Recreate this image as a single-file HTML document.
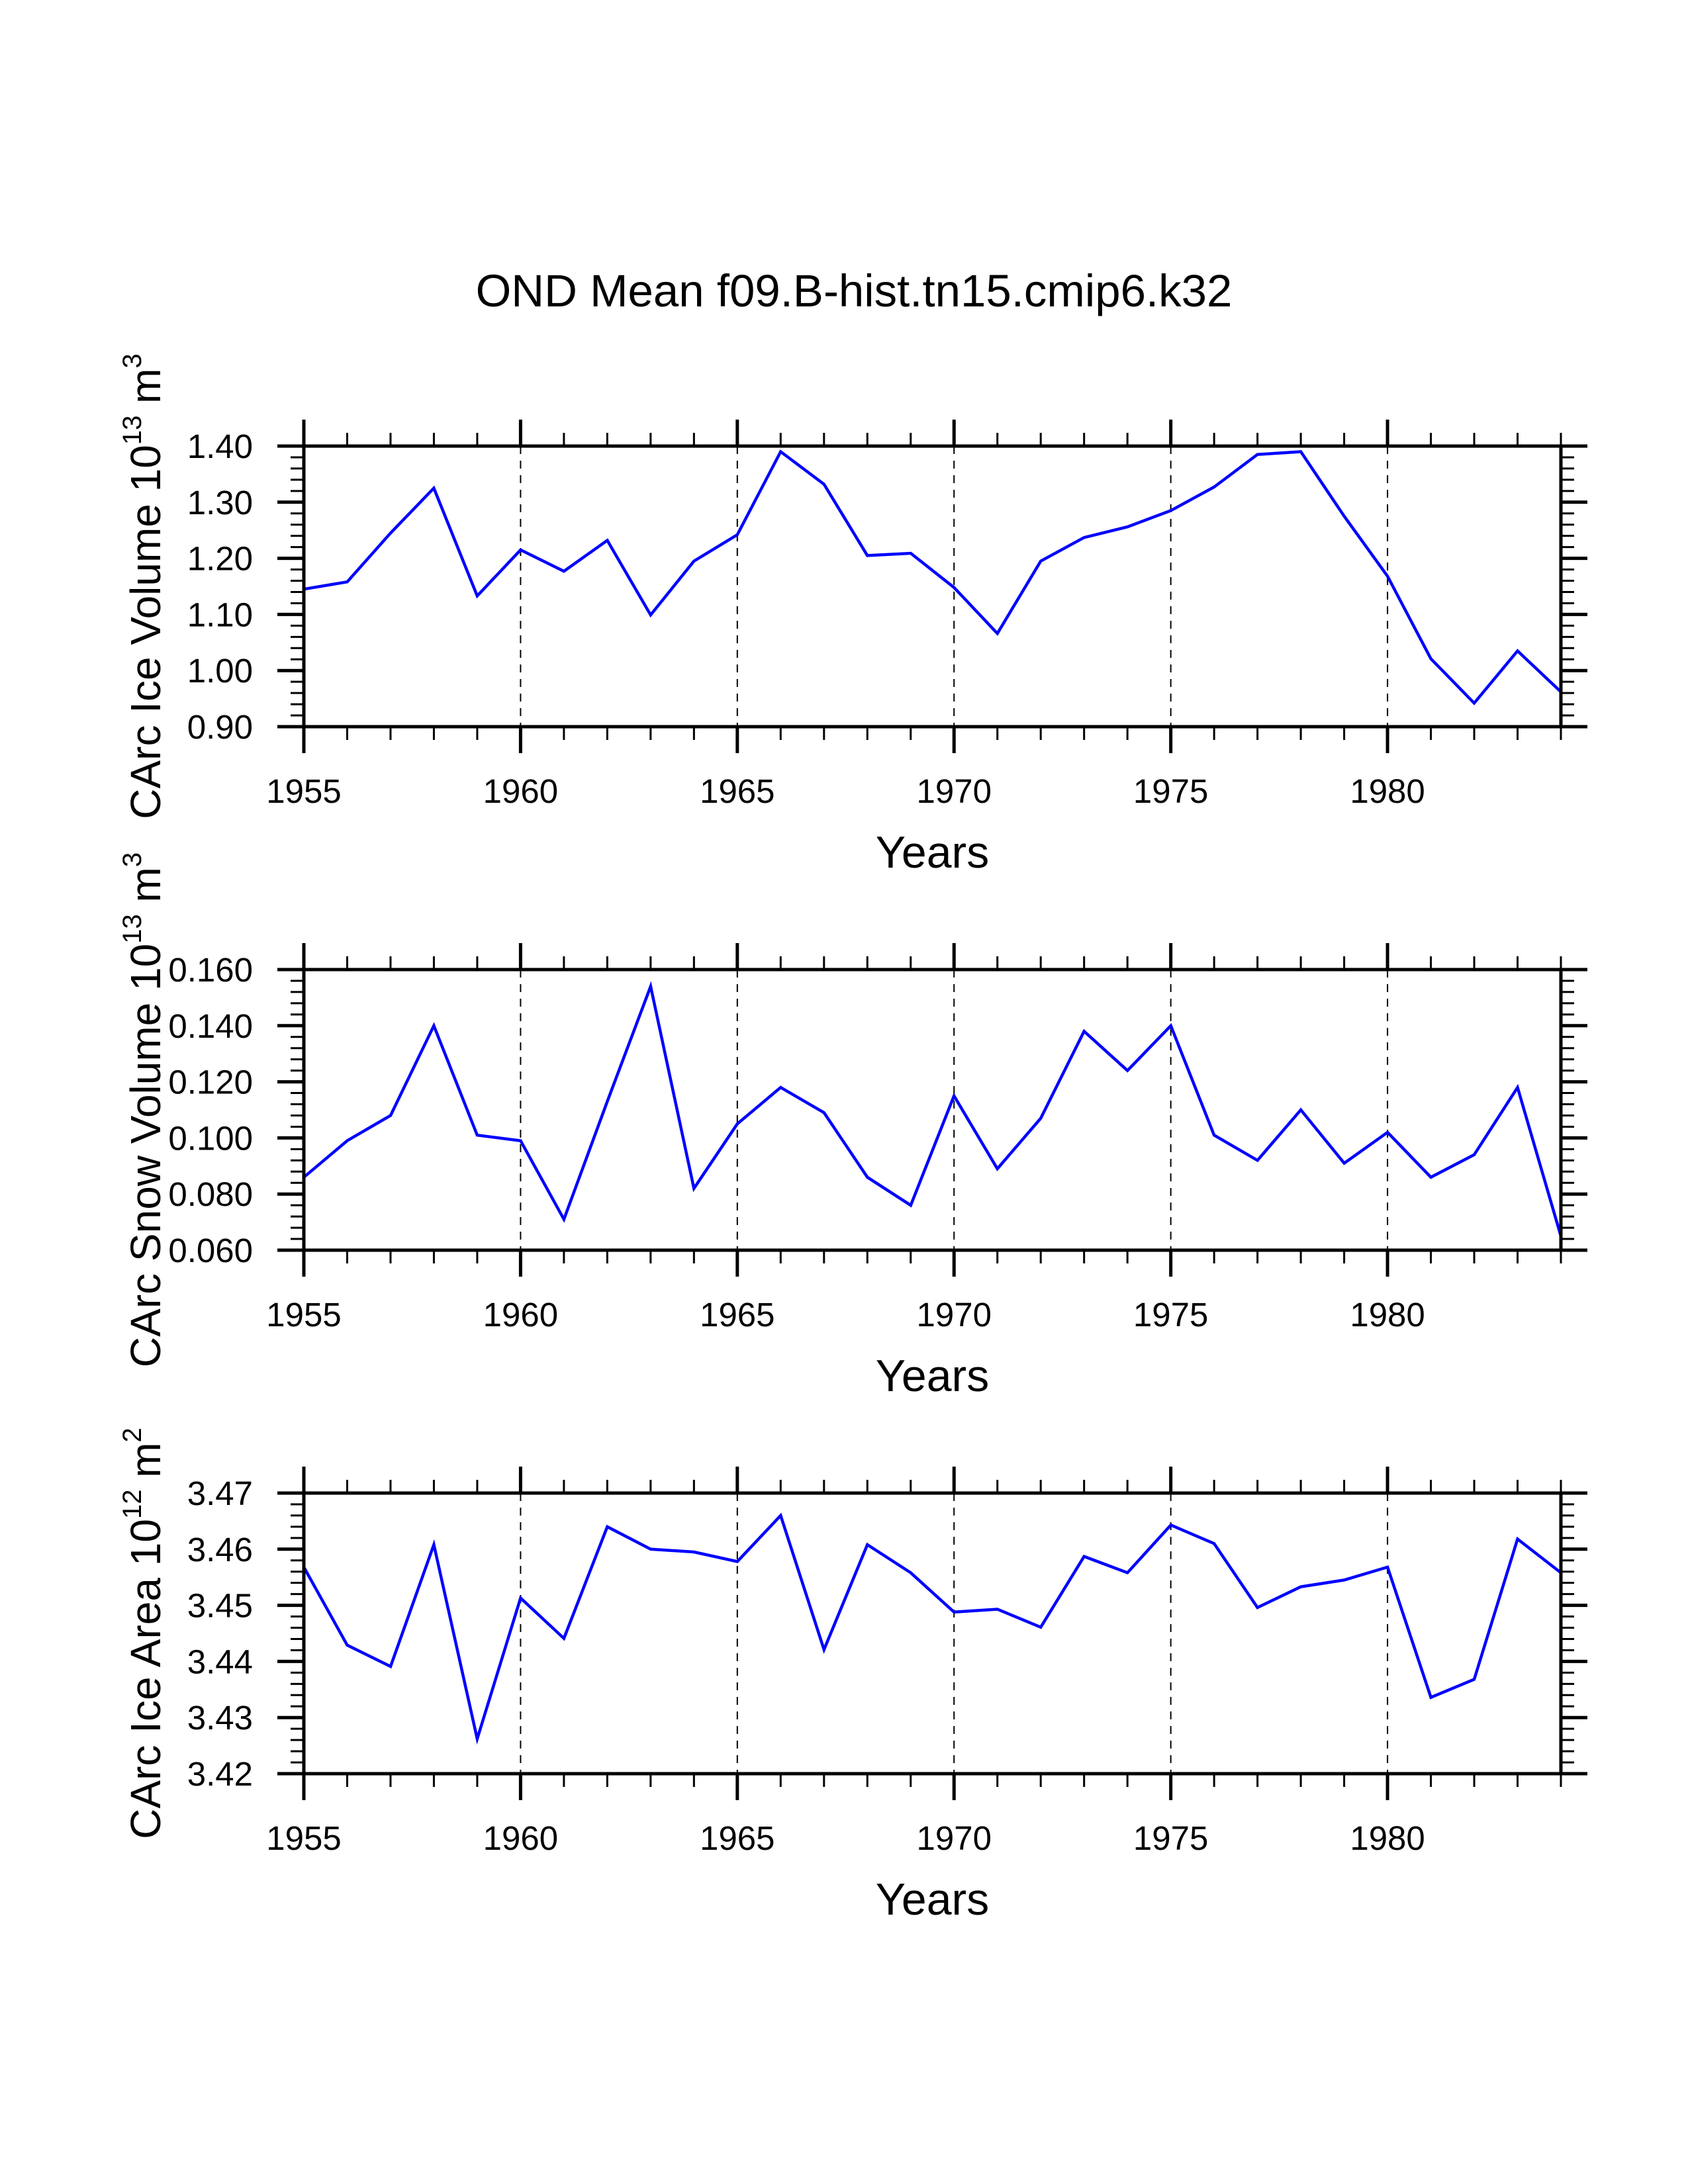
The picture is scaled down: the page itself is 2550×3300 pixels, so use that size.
<!DOCTYPE html>
<html><head><meta charset="utf-8"><style>
html,body{margin:0;padding:0;background:#fff;}
svg{display:block;font-family:"Liberation Sans",Arial,sans-serif;}
</style></head>
<body>
<svg id="chart" width="2550" height="3300" viewBox="0 0 2550 3300" xmlns="http://www.w3.org/2000/svg">
<text x="1290" y="463" font-size="69" text-anchor="middle">OND Mean f09.B-hist.tn15.cmip6.k32</text>
</svg>
<script>
const years = [1955,1956,1957,1958,1959,1960,1961,1962,1963,1964,1965,1966,1967,1968,1969,1970,1971,1972,1973,1974,1975,1976,1977,1978,1979,1980,1981,1982,1983,1984];
const iceVolume = [1.145,1.158,1.245,1.325,1.133,1.215,1.177,1.232,1.099,1.195,1.242,1.390,1.332,1.205,1.209,1.148,1.066,1.195,1.237,1.256,1.285,1.327,1.385,1.390,1.275,1.168,1.021,0.942,1.035,0.962];
const snowVolume = [0.086,0.099,0.108,0.140,0.101,0.099,0.071,0.113,0.154,0.082,0.105,0.118,0.109,0.086,0.076,0.115,0.089,0.107,0.138,0.124,0.140,0.101,0.092,0.110,0.091,0.102,0.086,0.094,0.118,0.065];
const iceArea = [3.4568,3.4429,3.4391,3.4608,3.4262,3.4513,3.4441,3.4640,3.4600,3.4595,3.4578,3.4660,3.4421,3.4608,3.4558,3.4488,3.4493,3.4461,3.4587,3.4558,3.4643,3.4610,3.4496,3.4533,3.4545,3.4568,3.4336,3.4368,3.4618,3.4558];
const xTickLabels = [1955,1960,1965,1970,1975,1980];
const iceVolTicks = [0.90,1.00,1.10,1.20,1.30,1.40];
const snowVolTicks = [0.060,0.080,0.100,0.120,0.140,0.160];
const iceAreaTicks = [3.42,3.43,3.44,3.45,3.46,3.47];

const NS = "http://www.w3.org/2000/svg";
const svg = document.getElementById('chart');
const X0 = 459, X1 = 2358, PH = 424;
const xMin = 1955, xMax = 1984;
function xs(v){ return X0 + (v - xMin) / (xMax - xMin) * (X1 - X0); }

function mk(parent, tag, attrs){
  const e = document.createElementNS(NS, tag);
  for (const k in attrs) e.setAttribute(k, attrs[k]);
  parent.appendChild(e);
  return e;
}
function line(g, x1, y1, x2, y2, w, extra){
  const l = mk(g, 'line', {x1:x1, y1:y1, x2:x2, y2:y2, stroke:'#000', 'stroke-width':w, 'stroke-linecap':'butt'});
  if (extra) for (const k in extra) l.setAttribute(k, extra[k]);
  return l;
}

function panel(key, top, values, ticks, decimals, titleMain, sup1, sup2unit, sup2){
  const yMin = ticks[0], yMax = ticks[ticks.length-1];
  const bot = top + PH;
  function ys(v){ return bot - (v - yMin) / (yMax - yMin) * PH; }
  const g = mk(svg, 'g', {});
  
  

  const grid = mk(g, 'g', {});
  
  
  for (let yr = 1960; yr <= 1980; yr += 5) {
    line(grid, xs(yr), top, xs(yr), bot, 2, {'stroke-dasharray':'12,10'});
  }

  let d = '';
  values.forEach((v, i) => { d += (i ? 'L' : 'M') + xs(years[i]).toFixed(1) + ',' + ys(v).toFixed(1); });
  const path = mk(g, 'path', {d:d, fill:'none', stroke:'#0000ff', 'stroke-width':4.5, 'stroke-linejoin':'miter'});
  
  

  const tk = mk(g, 'g', {});
  
  
  for (let yr = xMin; yr <= xMax; yr++) {
    const major = (yr % 5 === 0);
    const L = major ? 40 : 20, w = major ? 5 : 3;
    line(tk, xs(yr), bot, xs(yr), bot + L, w);
    line(tk, xs(yr), top, xs(yr), top - L, w);
  }
  const nMinor = 5;
  const step = (ticks[1] - ticks[0]) / nMinor;
  for (let i = 0; i <= (ticks.length - 1) * nMinor; i++) {
    const v = yMin + i * step;
    const major = (i % nMinor === 0);
    const L = major ? 40 : 20, w = major ? 5 : 3;
    line(tk, X0, ys(v), X0 - L, ys(v), w);
    line(tk, X1, ys(v), X1 + L, ys(v), w);
  }

  const fr = mk(g, 'rect', {x:X0, y:top, width:X1-X0, height:PH, fill:'none', stroke:'#000', 'stroke-width':5});
  
  

  xTickLabels.forEach(yr => {
    const t = mk(g, 'text', {x:xs(yr), y:bot + 115, 'font-size':51, 'text-anchor':'middle'});
    t.textContent = yr;
    
    
  });
  ticks.forEach(v => {
    const t = mk(g, 'text', {x:382, y:ys(v) + 18, 'font-size':51, 'text-anchor':'end'});
    t.textContent = v.toFixed(decimals);
    
    
  });
  const xt = mk(g, 'text', {x:(X0+X1)/2, y:bot + 213, 'font-size':68, 'text-anchor':'middle'});
  xt.textContent = 'Years';
  
  

  const yt = mk(g, 'text', {x:0, y:0, 'font-size':64, 'text-anchor':'middle', transform:'translate(242,' + (top + PH/2) + ') rotate(-90)'});
  
  
  const a = mk(yt, 'tspan', {}); a.textContent = titleMain + ' 10';
  const b = mk(yt, 'tspan', {'font-size':40, dy:-29}); b.textContent = sup1;
  const c = mk(yt, 'tspan', {dy:29}); c.textContent = ' ' + sup2unit;
  const e = mk(yt, 'tspan', {'font-size':40, dy:-29}); e.textContent = sup2;
}

panel('ice-volume', 674, iceVolume, iceVolTicks, 2, 'CArc Ice Volume', '13', 'm', '3');
panel('snow-volume', 1465, snowVolume, snowVolTicks, 3, 'CArc Snow Volume', '13', 'm', '3');
panel('ice-area', 2256, iceArea, iceAreaTicks, 2, 'CArc Ice Area', '12', 'm', '2');
</script>
</body></html>
